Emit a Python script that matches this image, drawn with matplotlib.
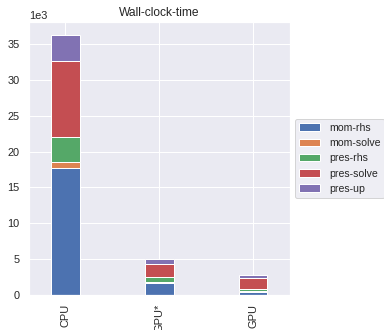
import matplotlib
matplotlib.use("Agg")
import matplotlib.pyplot as plt
import seaborn as sns
import numpy as np

sns.set_theme(style="darkgrid")
plt.rcParams['font.family'] = ['Liberation Sans', 'DejaVu Sans']

categories = ["CPU", "GPU*", "GPU"]
series_names = ["mom-rhs", "mom-solve", "pres-rhs", "pres-solve", "pres-up"]
mom_rhs = [17700, 1630, 420]
mom_solve = [900, 100, 100]
pres_rhs = [3400, 720, 230]
pres_solve = [10600, 1840, 1620]
pres_up = [3700, 700, 380]
series = [mom_rhs, mom_solve, pres_rhs, pres_solve, pres_up]
colors = ["#4C72B0", "#DD8452", "#55A868", "#C44E52", "#8172B3"]

fig = plt.figure(figsize=(384/72, 330/72), dpi=72)
ax = fig.add_axes([29.3/384, 1 - 294.7/330, (290 - 29.3)/384, (294.7 - 22)/330])

x = np.arange(len(categories))
bottom = np.zeros(len(categories))
for name, vals, c in zip(series_names, series, colors):
    ax.bar(x, vals, width=0.3, bottom=bottom, color=c, label=name, edgecolor="white", linewidth=1)
    bottom += np.array(vals)

ax.set_xticks(x)
ax.set_xticklabels(categories, rotation=90)
ax.set_xlim(-0.385, 2.39)
ax.set_ylim(0, bottom.max() * 1.05)
ax.ticklabel_format(axis="y", style="sci", scilimits=(3, 3))
ax.set_title("Wall-clock-time")
ax.legend(loc="center left", bbox_to_anchor=(1, 0.5), fontsize=10.5)

fig.savefig("out.png", dpi=72)
